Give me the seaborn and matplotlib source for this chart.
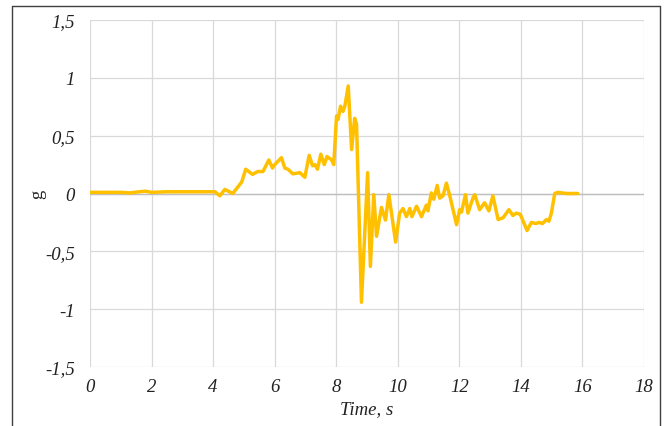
import numpy as np
import pandas as pd
import matplotlib
matplotlib.use("Agg")
import matplotlib.pyplot as plt
from matplotlib.lines import Line2D
import seaborn as sns

# --- data ---
time_s = [0.0, 0.5, 1.0, 1.3, 1.6, 1.8, 2.0, 2.5, 3.0, 3.5, 3.99, 4.06, 4.22, 4.38, 4.64,
          4.93, 5.06, 5.28, 5.45, 5.62, 5.81, 5.93, 5.97, 6.22, 6.33, 6.43, 6.59, 6.82,
          6.98, 7.12, 7.23, 7.31, 7.39, 7.50, 7.61, 7.70, 7.85, 7.92, 8.01, 8.06, 8.14,
          8.22, 8.28, 8.39, 8.50, 8.60, 8.66, 8.82, 9.02, 9.11, 9.22, 9.31, 9.47, 9.60,
          9.71, 9.93, 10.06, 10.17, 10.28, 10.39, 10.46, 10.61, 10.77, 10.93, 10.98,
          11.09, 11.17, 11.28, 11.36, 11.47, 11.58, 11.69, 11.91, 12.01, 12.07, 12.20,
          12.28, 12.44, 12.50, 12.66, 12.82, 12.96, 13.09, 13.26, 13.42, 13.61, 13.74,
          13.85, 13.98, 14.20, 14.34, 14.48, 14.59, 14.70, 14.83, 14.91, 14.99, 15.10,
          15.20, 15.48, 15.85]
accel_g = [0.01, 0.01, 0.01, 0.005, 0.015, 0.02, 0.01, 0.015, 0.015, 0.015, 0.015, 0.015,
           -0.02, 0.035, 0.0, 0.10, 0.21, 0.165, 0.19, 0.19, 0.29, 0.22, 0.24, 0.31, 0.22,
           0.21, 0.17, 0.18, 0.14, 0.33, 0.24, 0.25, 0.21, 0.34, 0.25, 0.32, 0.29, 0.25,
           0.67, 0.64, 0.755, 0.71, 0.755, 0.93, 0.38, 0.65, 0.60, -0.94, 0.18, -0.63,
           -0.01, -0.37, -0.12, -0.23, -0.01, -0.42, -0.17, -0.13, -0.20, -0.13, -0.20,
           -0.11, -0.20, -0.10, -0.15, 0.005, -0.05, 0.07, -0.04, -0.02, 0.09, -0.02,
           -0.27, -0.14, -0.16, -0.01, -0.17, -0.04, -0.01, -0.14, -0.08, -0.15, -0.02,
           -0.225, -0.21, -0.14, -0.19, -0.17, -0.18, -0.32, -0.25, -0.26, -0.25, -0.26,
           -0.225, -0.24, -0.17, 0.0, 0.01, 0.0, 0.0]
x_ticks = [0, 2, 4, 6, 8, 10, 12, 14, 16, 18]
y_ticks = [-1.5, -1.0, -0.5, 0.0, 0.5, 1.0, 1.5]
y_tick_labels = ["-1,5", "-1", "-0,5", "0", "0,5", "1", "1,5"]

df = pd.DataFrame({"t": time_s, "g": accel_g})

sns.set_theme(style="white")
plt.rcParams["font.family"] = ["Liberation Serif", "DejaVu Serif"]

W, H = 667, 427
fig = plt.figure(figsize=(W / 100, H / 100), dpi=100)
ax = fig.add_axes([90 / W, 1 - 368 / H, (644 - 90) / W, (368 - 21) / H])

sns.lineplot(data=df, x="t", y="g", ax=ax, color="#FFC000", linewidth=2.5,
             sort=False, estimator=None, solid_joinstyle="round", solid_capstyle="round",
             zorder=5)

FS = 13.5
ax.set_xlim(0, 18)
ax.set_ylim(-1.5, 1.5)
ax.set_xticks(x_ticks)
ax.set_yticks(y_ticks)
ax.set_xticklabels([str(v) for v in x_ticks], fontstyle="italic", fontsize=FS)
ax.set_yticklabels(y_tick_labels, fontstyle="italic", fontsize=FS)
ax.tick_params(axis="both", length=0, colors="#222222")
ax.tick_params(axis="x", pad=8)
ax.tick_params(axis="y", pad=11)

ax.grid(True, color="#D9D9D9", linewidth=0.9)
ax.axhline(0, color="#BFBFBF", linewidth=1.0, zorder=2)
for s in ax.spines.values():
    s.set_visible(False)

ax.set_xlabel("")
ax.set_ylabel("")
fig.text(367 / W, 1 - 410 / H, "Time, s", ha="center", va="center",
         fontstyle="italic", fontsize=FS, color="#222222")
fig.text(38 / W, 1 - 194 / H, "g", ha="center", va="center", rotation=90,
         fontsize=FS, color="#222222")

# chart-area border (partially visible in the reference)
fig.add_artist(Line2D([12 / W, 12 / W], [0, 1 - 7 / H], transform=fig.transFigure,
                      color="#404040", linewidth=1.0))
fig.add_artist(Line2D([660 / W, 660 / W], [0, 1 - 7 / H], transform=fig.transFigure,
                      color="#404040", linewidth=1.0))
fig.add_artist(Line2D([12 / W, 660 / W], [1 - 7 / H, 1 - 7 / H], transform=fig.transFigure,
                      color="#404040", linewidth=1.0))

fig.savefig("out.png", dpi=100)
